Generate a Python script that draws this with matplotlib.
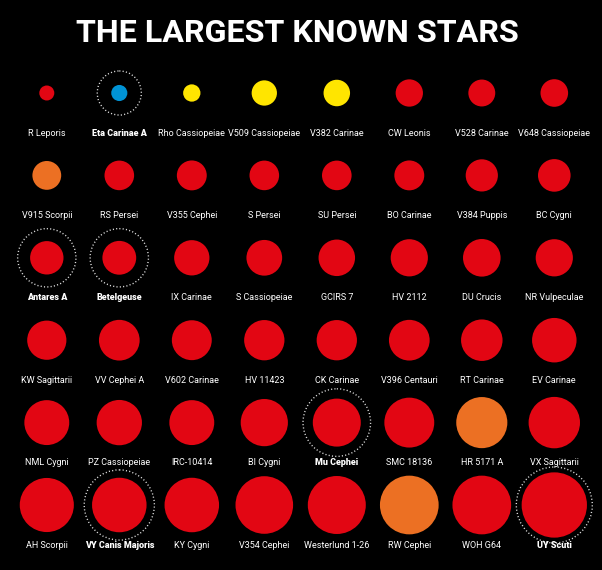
import matplotlib
matplotlib.use("Agg")
import matplotlib.pyplot as plt
from matplotlib.patches import Circle

# ---- data ----
title = "THE LARGEST KNOWN STARS"
names = [
    "R Leporis", "Eta Carinae A", "Rho Cassiopeiae", "V509 Cassiopeiae", "V382 Carinae", "CW Leonis", "V528 Carinae", "V648 Cassiopeiae",
    "V915 Scorpii", "RS Persei", "V355 Cephei", "S Persei", "SU Persei", "BO Carinae", "V384 Puppis", "BC Cygni",
    "Antares A", "Betelgeuse", "IX Carinae", "S Cassiopeiae", "GCIRS 7", "HV 2112", "DU Crucis", "NR Vulpeculae",
    "KW Sagittarii", "VV Cephei A", "V602 Carinae", "HV 11423", "CK Carinae", "V396 Centauri", "RT Carinae", "EV Carinae",
    "NML Cygni", "PZ Cassiopeiae", "IRC-10414", "BI Cygni", "Mu Cephei", "SMC 18136", "HR 5171 A", "VX Sagittarii",
    "AH Scorpii", "VY Canis Majoris", "KY Cygni", "V354 Cephei", "Westerlund 1-26", "RW Cephei", "WOH G64", "UY Scuti",
]
# relative diameters
diameters = [
    15.0, 16.1, 17.3, 25.3, 26.5, 27.3, 26.9, 27.6,
    28.8, 29.6, 29.9, 29.6, 29.6, 29.9, 32.2, 32.6,
    33.4, 33.8, 35.3, 35.7, 36.5, 37.2, 37.6, 37.2,
    39.2, 40.7, 39.9, 40.3, 40.3, 40.7, 41.5, 44.5,
    44.9, 45.3, 44.9, 47.2, 48.0, 49.9, 51.1, 51.4,
    54.1, 54.5, 54.5, 57.6, 58.0, 58.7, 58.7, 65.3,
]
star_class = [
    "red", "blue", "yellow", "yellow", "yellow", "red", "red", "red",
    "orange", "red", "red", "red", "red", "red", "red", "red",
    "red", "red", "red", "red", "red", "red", "red", "red",
    "red", "red", "red", "red", "red", "red", "red", "red",
    "red", "red", "red", "red", "red", "red", "orange", "red",
    "red", "red", "red", "red", "red", "orange", "red", "red",
]
highlighted = ["Eta Carinae A", "Antares A", "Betelgeuse", "Mu Cephei", "VY Canis Majoris", "UY Scuti"]
ring_diameters = [44.1, 58.3, 58.3, 67.6, 70.2, 76.0]

# ---- style ----
palette = {"red": "#E20613", "orange": "#EC7023", "yellow": "#FFE500", "blue": "#0093D5"}
ncols = 8
x0, dx = 46.8, 72.5
y0, dy = 93.0, 82.4
label_off = 40.0

W, H = 602, 570
fig = plt.figure(figsize=(W / 100, H / 100), dpi=100, facecolor="black")
ax = fig.add_axes([0, 0, 1, 1])
ax.set_facecolor("black")
ax.set_xlim(0, W)
ax.set_ylim(H, 0)
ax.set_axis_off()

ax.text(297.5, 33, title, color="white", ha="center", va="center",
        fontsize=23.2, fontweight="bold", family="Roboto")

ring_of = dict(zip(highlighted, ring_diameters))
for i, (name, d, cls) in enumerate(zip(names, diameters, star_class)):
    r, c = divmod(i, ncols)
    cx = x0 + dx * c
    cy = y0 + dy * r
    ax.add_patch(Circle((cx, cy), d / 2, facecolor=palette[cls], edgecolor="none"))
    bold = name in ring_of
    if bold:
        ax.add_patch(Circle((cx, cy), ring_of[name] / 2, fill=False, edgecolor="#e0e0e0",
                            linewidth=1.0, linestyle=(0, (0.8, 1.6))))
    ax.text(cx, cy + label_off, name, color="white", ha="center", va="center",
            fontsize=6.5, fontweight="black" if bold else "normal", family="Roboto")

fig.savefig("out.png", dpi=100, facecolor="black")
